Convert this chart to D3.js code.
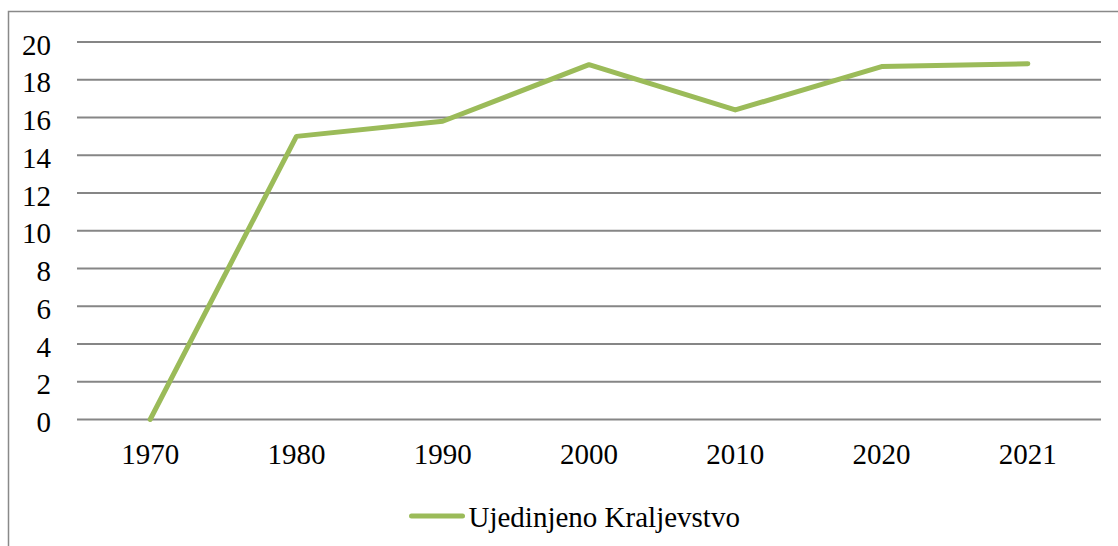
<!DOCTYPE html>
<html>
<head>
<meta charset="utf-8">
<script src="https://cdn.jsdelivr.net/npm/d3@7"></script>
<style>
  html, body { margin: 0; padding: 0; background: #fff; }
  svg { display: block; }
  text { font-family: "Liberation Serif", "Times New Roman", serif; fill: #000; }
</style>
</head>
<body>
<svg id="chart" width="1118" height="546"></svg>
<script>
// chart data
const years = ['1970', '1980', '1990', '2000', '2010', '2020', '2021'];
const values = [0, 15.0, 15.8, 18.8, 16.4, 18.7, 18.85];
const yTicks = [0, 2, 4, 6, 8, 10, 12, 14, 16, 18, 20];
const seriesName = 'Ujedinjeno Kraljevstvo';

const width = 1118;
const height = 546;
const plot = { left: 77, right: 1101, top: 42, bottom: 419.5 };
const lineColor = '#9bbb59';
const gridColor = '#868686';
const fontSize = '29px';
const fontFamily = '"Liberation Serif", "Times New Roman", serif';

const svg = d3.select('#chart');

// outer frame (right and bottom edges fall off the picture)
svg.append('rect')
  .attr('x', 8.5).attr('y', 11.5)
  .attr('width', width + 10).attr('height', height + 10)
  .attr('fill', 'none')
  .attr('stroke', '#898989')
  .attr('stroke-width', 1.5);

const x = d3.scaleBand()
  .domain(years)
  .range([plot.left, plot.right]);

const y = d3.scaleLinear()
  .domain([0, 20])
  .range([plot.bottom, plot.top]);

// gridlines
svg.append('g')
  .selectAll('line')
  .data(yTicks)
  .join('line')
  .attr('x1', plot.left)
  .attr('x2', plot.right)
  .attr('y1', (d) => y(d))
  .attr('y2', (d) => y(d))
  .attr('stroke', gridColor)
  .attr('stroke-width', 2);

// y axis labels
const yAxis = svg.append('g')
  .attr('transform', `translate(${plot.left},0)`)
  .call(d3.axisLeft(y).tickValues(yTicks).tickSize(0).tickPadding(26));
yAxis.select('.domain').remove();
yAxis.selectAll('text')
  .attr('dy', '0.42em')
  .style('font-family', fontFamily)
  .style('font-size', fontSize)
  .attr('fill', '#000');

// x axis labels
const xAxis = svg.append('g')
  .attr('transform', `translate(0,${plot.bottom})`)
  .call(d3.axisBottom(x).tickSize(0).tickPadding(24));
xAxis.select('.domain').remove();
xAxis.selectAll('text')
  .style('font-family', fontFamily)
  .style('font-size', fontSize)
  .attr('fill', '#000');

// series line
const line = d3.line()
  .x((d, i) => x(years[i]) + x.bandwidth() / 2)
  .y((d) => y(d));

svg.append('path')
  .datum(values)
  .attr('d', line)
  .attr('fill', 'none')
  .attr('stroke', lineColor)
  .attr('stroke-width', 5)
  .attr('stroke-linejoin', 'round')
  .attr('stroke-linecap', 'round');

// legend
const legend = svg.append('g').attr('transform', 'translate(411.5,516)');
legend.append('line')
  .attr('x1', 0).attr('x2', 51)
  .attr('y1', 0).attr('y2', 0)
  .attr('stroke', lineColor)
  .attr('stroke-width', 5)
  .attr('stroke-linecap', 'round');
legend.append('text')
  .attr('x', 57)
  .attr('y', 11)
  .style('font-size', fontSize)
  .text(seriesName);
</script>
</body>
</html>
